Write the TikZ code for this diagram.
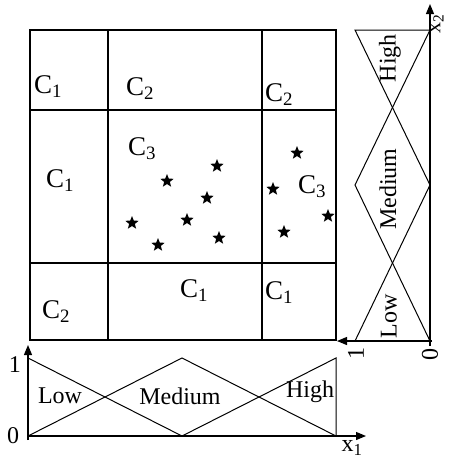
\documentclass[tikz,border=0pt]{standalone}
\usepackage{fontspec}
\setmainfont{Liberation Serif}
\usetikzlibrary{arrows.meta}
\usetikzlibrary{shapes.geometric}

\tikzset{
  lab/.style={font=\fontsize{24}{26}\selectfont, inner sep=0pt},
  cls/.style={font=\fontsize{27}{29}\selectfont, inner sep=0pt},
  pnt/.style={star, star points=5, star point ratio=2.3, fill=black, inner sep=0pt, minimum size=14pt},
  gridline/.style={line width=1.3pt},
  mf/.style={line width=1pt},
  axis/.style={line width=1.2pt, -{Triangle[length=10pt,width=8pt]}},
}

\begin{document}
\begin{tikzpicture}[x=1pt, y=-1pt]
  \useasboundingbox (0,0) rectangle (449,459);

  % partition of the input space
  \draw[gridline] (30,30) rectangle (336,340);
  \draw[gridline] (108,30) -- (108,340);
  \draw[gridline] (262,30) -- (262,340);
  \draw[gridline] (30,110) -- (336,110);
  \draw[gridline] (30,263) -- (336,263);

  \node[cls] (c11) at (48,87) {C\textsubscript{1}};
  \node[cls] (c12) at (140,89) {C\textsubscript{2}};
  \node[cls] (c13) at (279,95) {C\textsubscript{2}};
  \node[cls] (c21) at (60,181) {C\textsubscript{1}};
  \node[cls] (c22) at (142,149) {C\textsubscript{3}};
  \node[cls] (c23) at (312,187) {C\textsubscript{3}};
  \node[cls] (c31) at (56,312) {C\textsubscript{2}};
  \node[cls] (c32) at (194,291) {C\textsubscript{1}};
  \node[cls] (c33) at (279,293) {C\textsubscript{1}};

  % samples
  \foreach \px/\py [count=\i] in {217/166, 167/181, 207/198, 132/223, 187/220,
      158/245, 219/238, 297/153, 273/189, 328/216, 284/232}
    \node[pnt] (s\i) at (\px,\py) {};

  % membership functions of x1
  \coordinate (o1) at (28,436);
  \coordinate (y1) at (28,345);
  \coordinate (x1) at (366,436);
  \draw[axis] ([yshift=-4pt]o1) -- (y1);
  \draw[axis] (o1) -- (x1);
  \draw[mf] (28,358) -- (182,436) -- (336,358) -- (336,436);
  \draw[mf] (28,436) -- (182,358) -- (336,436);
  \node[lab] (one1) at (15,365) {1};
  \node[lab] (zero1) at (13,436) {0};
  \node[lab] (low1) at (60,396) {Low};
  \node[lab] (med1) at (180,396) {Medium};
  \node[lab] (high1) at (310,392) {High};
  \node[lab] (lx1) at (352,448) {x\textsubscript{1}};

  % membership functions of x2
  \coordinate (o2) at (430,341);
  \coordinate (y2) at (430,4);
  \coordinate (x2) at (337,341);
  \draw[axis] ([yshift=-5pt]o2) -- (y2);
  \draw[axis] ([xshift=2pt]o2) -- (x2);
  \draw[mf] (430,30) -- (355,30) -- (430,185) -- (355,341);
  \draw[mf] (430,30) -- (355,185) -- (430,341);
  \node[lab, rotate=90] (one2) at (356,353) {1};
  \node[lab, rotate=90] (zero2) at (430,354) {0};
  \node[lab, rotate=90] (high2) at (390,58) {High};
  \node[lab, rotate=90] (med2) at (388,189) {Medium};
  \node[lab, rotate=90] (low2) at (389,316) {Low};
  \node[lab, rotate=90, font=\fontsize{22}{24}\selectfont] (lx2) at (437,24) {x\textsubscript{2}};
\end{tikzpicture}
\end{document}
